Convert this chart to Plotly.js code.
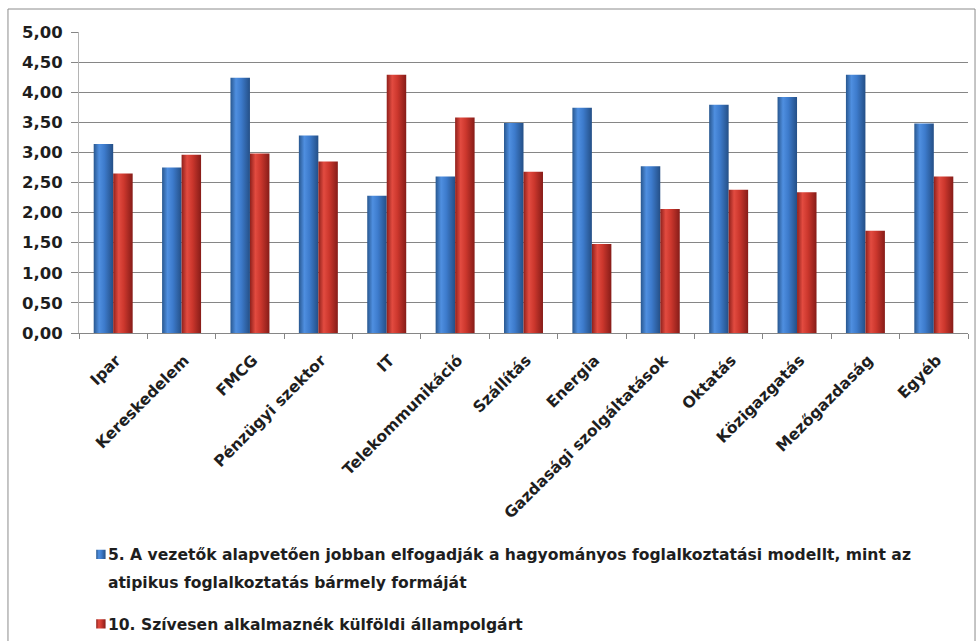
<!DOCTYPE html>
<html>
<head>
<meta charset="utf-8">
<script src="https://cdn.plot.ly/plotly-3.0.1.min.js"></script>
<style>
  html, body { margin: 0; padding: 0; background: #ffffff; }
  #chart { width: 977px; height: 641px; }
</style>
</head>
<body>
<div id="chart"></div>
<script>
// Sector categories (x axis)
const categories = [
  'Ipar', 'Kereskedelem', 'FMCG', 'Pénzügyi szektor', 'IT',
  'Telekommunikáció', 'Szállítás', 'Energia', 'Gazdasági szolgáltatások',
  'Oktatás', 'Közigazgatás', 'Mezőgazdaság', 'Egyéb'
];

// Series names (legend)
const nameTraditional = '5. A vezetők alapvetően jobban elfogadják a hagyományos foglalkoztatási modellt, mint az<br>atipikus foglalkoztatás bármely formáját';
const nameForeign = '10. Szívesen alkalmaznék külföldi állampolgárt';

// Average scores per sector
const valuesTraditional = [3.14, 2.75, 4.24, 3.28, 2.28, 2.60, 3.49, 3.74, 2.77, 3.79, 3.92, 4.29, 3.48];
const valuesForeign     = [2.65, 2.96, 2.98, 2.85, 4.29, 3.58, 2.68, 1.48, 2.06, 2.38, 2.34, 1.70, 2.60];

// Y axis ticks
const yTicks = [0, 0.5, 1, 1.5, 2, 2.5, 3, 3.5, 4, 4.5, 5];

const FONT = 'DejaVu Sans, sans-serif';
const TEXT = '#1e1e1e';

const traces = [
  {
    type: 'bar', x: categories, y: valuesTraditional, name: nameTraditional,
    legendgroup: 'a',
    marker: { color: '#3b78c6', line: { width: 0 } },
    hoverinfo: 'none'
  },
  {
    type: 'bar', x: categories, y: valuesForeign, name: nameForeign,
    legendgroup: 'b',
    marker: { color: '#c8342b', line: { width: 0 } },
    hoverinfo: 'none'
  }
];

const layout = {
  width: 977, height: 641,
  margin: { l: 79, r: 9, t: 32, b: 308, autoexpand: false },
  paper_bgcolor: '#ffffff', plot_bgcolor: '#ffffff',
  separators: ', ',
  font: { family: FONT, size: 15, color: TEXT, weight: 700 },
  barmode: 'group', bargap: 0.43, bargroupgap: 0,
  showlegend: true,
  legend: {
    orientation: 'v', x: -0.0125, xanchor: 'left', y: -0.68, yanchor: 'top',
    valign: 'top', tracegroupgap: 26, itemwidth: 30,
    font: { family: FONT, size: 15.6, color: TEXT, weight: 700 },
    bgcolor: 'rgba(0,0,0,0)'
  },
  xaxis: {
    type: 'category', tickangle: -45,
    showline: true, linecolor: '#868686', linewidth: 1,
    ticks: 'outside', tickson: 'boundaries', ticklen: 5, tickcolor: '#868686',
    showgrid: false, zeroline: false, automargin: false,
    ticklabelstandoff: 11, ticklabelshift: 3,
    tickfont: { family: FONT, size: 15.6, color: TEXT, weight: 700 }
  },
  yaxis: {
    range: [0, 5], tickvals: yTicks, tickformat: '.2f',
    showline: true, linecolor: '#b4b4b4', linewidth: 1,
    ticks: 'outside', ticklen: 7, tickcolor: '#868686',
    showgrid: true, gridcolor: '#868686', gridwidth: 1,
    zeroline: false, automargin: false, ticklabelstandoff: 5,
    tickfont: { family: FONT, size: 16.5, color: TEXT, weight: 700 }
  },
  shapes: [
    {
      // chart frame (open at the bottom)
      type: 'path', xref: 'paper', yref: 'paper',
      path: 'M -0.0799,-1.2 L -0.0799,1.0764 L 1.0079,1.0764 L 1.0079,-1.2',
      line: { color: '#8c8c8c', width: 1 }
    }
  ]
};

const NS = 'http://www.w3.org/2000/svg';
const GRADIENTS = {
  gradBlue: [['0%', '#28578f'], ['28%', '#4f8fe0'], ['55%', '#3d7bcc'], ['100%', '#244f86']],
  gradRed:  [['0%', '#8f201b'], ['28%', '#e24b40'], ['55%', '#cc372d'], ['100%', '#861c18']]
};

// cylinder-like shading for the bars and the legend keys
function styleChart(gd) {
  const svg = gd.querySelector('svg.main-svg');
  if (!svg) return;
  if (!document.getElementById('gradBlue')) {
    let defs = svg.querySelector('defs');
    if (!defs) { defs = document.createElementNS(NS, 'defs'); svg.insertBefore(defs, svg.firstChild); }
    Object.keys(GRADIENTS).forEach(function (id) {
      const lg = document.createElementNS(NS, 'linearGradient');
      lg.setAttribute('id', id);
      lg.setAttribute('x1', '0'); lg.setAttribute('y1', '0');
      lg.setAttribute('x2', '1'); lg.setAttribute('y2', '0');
      GRADIENTS[id].forEach(function (s) {
        const st = document.createElementNS(NS, 'stop');
        st.setAttribute('offset', s[0]);
        st.setAttribute('stop-color', s[1]);
        lg.appendChild(st);
      });
      defs.appendChild(lg);
    });
  }
  const ids = ['gradBlue', 'gradRed'];
  gd.querySelectorAll('g.trace.bars').forEach(function (tr, i) {
    tr.querySelectorAll('path').forEach(function (p) {
      p.style.setProperty('fill', 'url(#' + ids[i % 2] + ')', 'important');
    });
  });
  gd.querySelectorAll('.legend g.traces').forEach(function (tr, i) {
    tr.querySelectorAll('.legendpoints path').forEach(function (p) {
      p.setAttribute('transform', 'translate(33,0) scale(0.78)');
      p.style.setProperty('fill', 'url(#' + ids[i % 2] + ')', 'important');
    });
    // wider line spacing for the wrapped legend entry
    const lines = tr.querySelectorAll('text.legendtext tspan.line');
    lines.forEach(function (t, k) { if (k > 0) t.setAttribute('dy', '1.75em'); });
  });
}

const gd = document.getElementById('chart');
Plotly.newPlot(gd, traces, layout, { staticPlot: true, displayModeBar: false })
  .then(function () {
    styleChart(gd);
    gd.on('plotly_afterplot', function () { styleChart(gd); });
    setTimeout(function () { styleChart(gd); }, 50);
    setTimeout(function () { styleChart(gd); }, 300);
  });
</script>
</body>
</html>
